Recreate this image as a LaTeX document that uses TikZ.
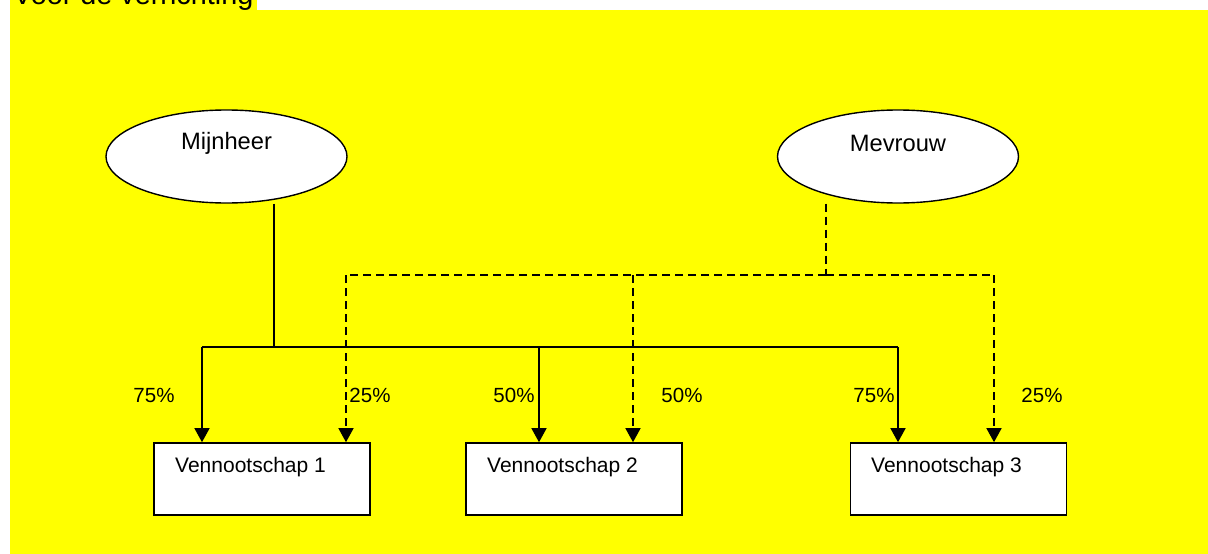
\documentclass[tikz,border=0pt]{standalone}
\usepackage{fontspec}
\setmainfont{Liberation Sans}
\usetikzlibrary{shapes.geometric,arrows.meta}
\definecolor{bgyellow}{RGB}{255,255,0}
\tikzset{
  person/.style={ellipse, draw=black, line width=1.4pt, fill=white,
    minimum width=241pt, minimum height=93pt, inner sep=0pt},
  company/.style={rectangle, draw=black, line width=1.6pt, fill=white,
    minimum width=216pt, minimum height=72pt, inner sep=0pt},
  nametext/.style={font=\fontsize{23.7}{26}\selectfont, inner sep=0pt},
  boxtext/.style={font=\fontsize{21}{24}\selectfont, inner sep=0pt, anchor=west},
  pct/.style={font=\fontsize{20.5}{24}\selectfont, inner sep=0pt},
  link/.style={line width=1.4pt, draw=black},
  dlink/.style={link, dash pattern=on 8pt off 5pt},
  tip/.style={-{Triangle[width=15pt,length=14pt]}},
}
\begin{document}
\begin{tikzpicture}[x=1pt,y=-1pt]
\useasboundingbox (0,0) rectangle (1208,554);
% background and heading strip
\fill[bgyellow] (10,10) rectangle (1208,554);
\fill[bgyellow] (10,0) rectangle (257,10);
\node[anchor=base west, inner sep=0pt, font=\fontsize{28.8}{30}\selectfont] (title) at (13,5) {Voor de verrichting};

% shareholders
\node[person] (mij) at (226.5,156.5) {};
\node[nametext] (mijtxt) at (226.5,143) {Mijnheer};
\node[person] (mev) at (898,156.5) {};
\node[nametext] (mevtxt) at (898,143) {Mevrouw};

% companies
\node[company] (v1) at (262,479) {};
\node[boxtext] (v1txt) at (175,467) {Vennootschap 1};
\node[company] (v2) at (574,479) {};
\node[boxtext] (v2txt) at (487,467) {Vennootschap 2};
\node[company] (v3) at (958.5,479) {};
\node[boxtext] (v3txt) at (871,467) {Vennootschap 3};

% branch points
\coordinate (mijfoot) at (274,347);
\coordinate (s1) at (202,347);
\coordinate (s2) at (539,347);
\coordinate (s3) at (898,347);
\coordinate (mevfoot) at (826,275);
\coordinate (d1) at (346,275);
\coordinate (d2) at (633,275);
\coordinate (d3) at (994,275);

% Mijnheer's holdings (solid)
\draw[link] (mij.south -| mijfoot) -- (mijfoot);
\draw[link] (s1) -- (s3);
\draw[link,tip] (s1) -- (s1 |- v1.north);
\draw[link,tip] (s2) -- (s2 |- v2.north);
\draw[link,tip] (s3) -- (s3 |- v3.north);

% Mevrouw's holdings (dashed)
\draw[dlink] (mev.south -| mevfoot) -- (mevfoot);
\draw[dlink] (mevfoot) -- (d1);
\draw[dlink] (mevfoot) -- (d3);
\draw[dlink,tip] (d1) -- (d1 |- v1.north);
\draw[dlink,tip] (d2) -- (d2 |- v2.north);
\draw[dlink,tip] (d3) -- (d3 |- v3.north);

% percentages
\node[pct] (p1) at (154,395) {75\%};
\node[pct] (p2) at (370,395) {25\%};
\node[pct] (p3) at (514,395) {50\%};
\node[pct] (p4) at (682,395) {50\%};
\node[pct] (p5) at (874,395) {75\%};
\node[pct] (p6) at (1042,395) {25\%};
\end{tikzpicture}
\end{document}
